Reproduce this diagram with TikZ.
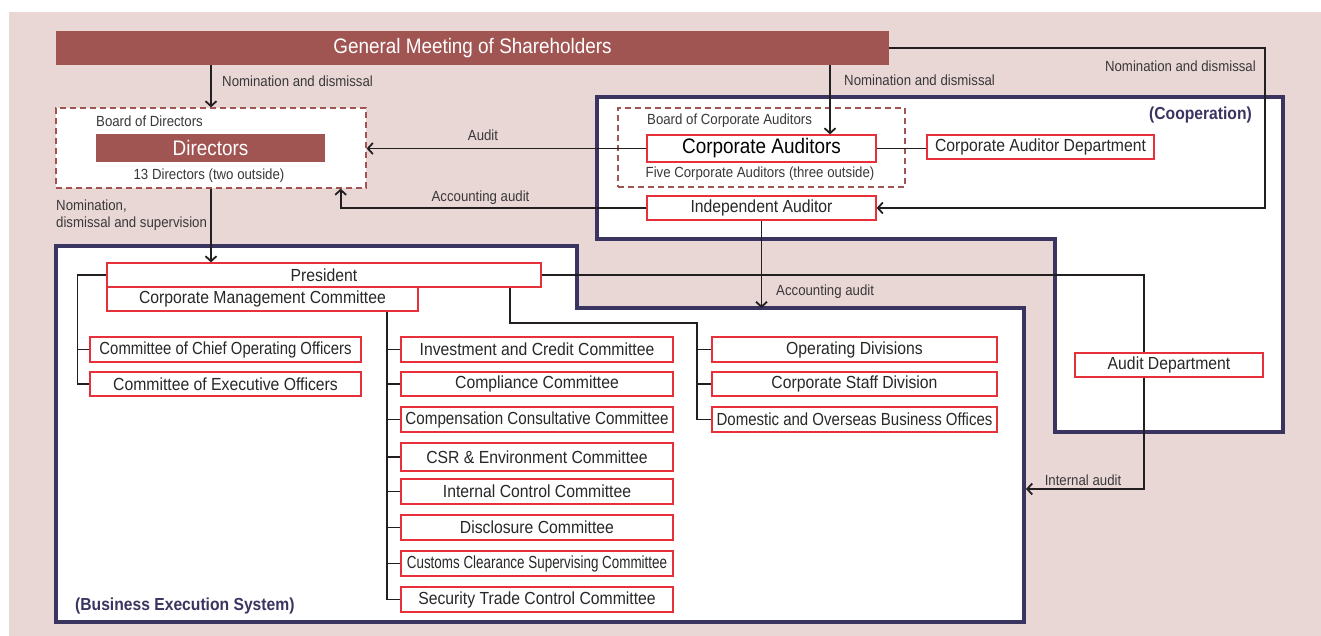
\documentclass[tikz,border=0pt]{standalone}
\usepackage{graphicx}
\usepackage{fontspec}
\setmainfont{Liberation Sans}[FakeStretch=0.9]
\usetikzlibrary{arrows.meta,calc}
\definecolor{bgpink}{RGB}{233,215,214}
\definecolor{dred}{RGB}{160,85,83}
\definecolor{navy}{RGB}{58,52,96}
\definecolor{bred}{RGB}{232,48,58}
\definecolor{txt}{RGB}{40,40,40}
\definecolor{lbl}{RGB}{58,56,56}
\definecolor{lnc}{RGB}{35,31,32}
\tikzset{
  box/.style={draw=bred, line width=1.2pt, fill=white, inner sep=0pt, text=txt,
    font=\fontsize{17.5}{20}\selectfont},
  bigbox/.style={box, font=\fontsize{21}{24}\selectfont, text=black},
  redbar/.style={fill=dred, inner sep=0pt, text=white, font=\fontsize{21}{24}\selectfont},
  dashbox/.style={draw=dred, line width=1.3pt, dash pattern=on 6pt off 4pt, fill=white, inner sep=0pt},
  lbltext/.style={inner sep=0pt, text=lbl, font=\fontsize{14.7}{17}\selectfont},
  navytext/.style={inner sep=0pt, text=navy, font=\fontsize{17.4}{20}\selectfont\bfseries},
  navyframe/.style={draw=navy, line width=3.6pt, fill=white, line join=miter},
  conn/.style={draw=lnc, line width=1.8pt},
  arr/.style={conn, -{Straight Barb[length=5pt,width=11pt]}}
}
\begin{document}
\begin{tikzpicture}[x=1pt,y={(0pt,-1pt)}]
\useasboundingbox (0,0) rectangle (1321,636);
\fill[white] (0,0) rectangle (1321,636);
\fill[bgpink] (9,12) rectangle (1321,636);

% frames
\draw[navyframe] (597,97) -- (1283,97) -- (1283,432) -- (1055,432) -- (1055,239) -- (597,239) -- cycle;
\draw[navyframe] (56,246) -- (577,246) -- (577,308) -- (1024,308) -- (1024,622) -- (56,622) -- cycle;
\node[navytext, anchor=east] (coop) at (1252,115) {(Cooperation)};
\node[navytext, anchor=west] (bes) at (75,606) {(Business Execution System)};

% top
\node[redbar, minimum width=833pt, minimum height=34pt] (gm) at (472.5,48) {General Meeting of Shareholders};

\node[dashbox, minimum width=310pt, minimum height=80pt] (dbox) at (211,148) {};
\node[redbar, minimum width=229pt, minimum height=28pt] (dir) at (210.5,148) {Directors};
\node[lbltext, anchor=west] (bod) at (96,121) {Board of Directors};
\node[lbltext] (thirteen) at (209,176) {13 Directors (two outside)};

\node[dashbox, minimum width=287pt, minimum height=79pt] (cbox) at (761.5,147.5) {};
\node[bigbox, minimum width=229pt, minimum height=27pt] (ca) at (761.5,148.5) {Corporate Auditors};
\node[lbltext, anchor=west] (bca) at (647,121) {Board of Corporate Auditors};
\node[lbltext] (five) at (760,174) {Five Corporate Auditors (three outside)};
\node[box, minimum width=229pt, minimum height=24pt] (ia) at (761.5,208) {Independent Auditor};
\node[box, minimum width=227pt, minimum height=24pt] (cad) at (1040.5,147) {Corporate Auditor Department};

% business execution
\node[box, minimum width=434pt, minimum height=24pt] (pres) at (324,275) {President};
\node[box, minimum width=311pt, minimum height=24pt] (cmc) at (262.5,299) {Corporate Management Committee};
\node[box, minimum width=271pt, minimum height=25pt] (coo) at (225.5,349.5) {\scalebox{0.945}[1]{Committee of Chief Operating Officers}};
\node[box, minimum width=271pt, minimum height=24pt] (ceo) at (225.5,384) {Committee of Executive Officers};

\node[box, minimum width=272pt, minimum height=25pt] (icc) at (537,349.5) {Investment and Credit Committee};
\node[box, minimum width=272pt, minimum height=24pt] (cc) at (537,384) {Compliance Committee};
\node[box, minimum width=272pt, minimum height=25pt] (ccc) at (537,419.5) {\scalebox{0.963}[1]{Compensation Consultative Committee}};
\node[box, minimum width=272pt, minimum height=28pt] (csr) at (537,457) {CSR \& Environment Committee};
\node[box, minimum width=272pt, minimum height=25pt] (icc2) at (537,491.5) {Internal Control Committee};
\node[box, minimum width=272pt, minimum height=25pt] (dc) at (537,527.5) {Disclosure Committee};
\node[box, minimum width=272pt, minimum height=25pt] (ccsc) at (537,563.5) {\scalebox{0.852}[1]{Customs Clearance Supervising Committee}};
\node[box, minimum width=272pt, minimum height=25pt] (stc) at (537,599.5) {Security Trade Control Committee};

\node[box, minimum width=285pt, minimum height=25pt] (od) at (854.5,349.5) {Operating Divisions};
\node[box, minimum width=285pt, minimum height=24pt] (csd) at (854.5,384) {Corporate Staff Division};
\node[box, minimum width=285pt, minimum height=25pt] (dob) at (854.5,419.5) {\scalebox{0.953}[1]{Domestic and Overseas Business Offices}};

\node[box, minimum width=188pt, minimum height=24pt] (ad) at (1169,365) {Audit Department};

% coordinates
\coordinate (nd) at (1265,48);
\coordinate (besstep) at (1024,308);
\coordinate (besr) at (1026,489);
\coordinate (rk) at (697,323);

% connectors
\draw[arr] (dbox.north |- gm.south) -- (dbox.north);
\node[lbltext, anchor=west] (l1) at (222,81) {Nomination and dismissal};
\draw[arr] (dbox.south) -- (dbox.south |- pres.north);
\node[lbltext, anchor=west, align=left] (l2) at (56,215.5) {Nomination,\\dismissal and supervision};
\draw[arr] (ca.west) -- (ca.west -| dbox.east);
\node[lbltext] (l3) at (483,135) {Audit};
\draw[arr] (ia.west) -| ([xshift=-26pt]dbox.south east);
\node[lbltext] (l4) at (480.5,198) {Accounting audit};
\draw[arr] ([xshift=68.5pt]ca.north |- gm.south) -- ([xshift=68.5pt]ca.north);
\node[lbltext, anchor=west] (l5) at (844,80) {Nomination and dismissal};
\draw[arr] (gm.east) -- (nd) |- (ia.east);
\node[lbltext, anchor=east] (l6) at (1256,66) {Nomination and dismissal};
\draw[arr] (ia.south) -- (ia.south |- besstep);
\node[lbltext, anchor=west] (l7) at (776,292) {Accounting audit};
\draw[conn] (ca.east) -- (ca.east -| cad.west);

\draw[conn] (pres.east) -| ([xshift=-25pt]ad.north);
\draw[arr] ([xshift=-25pt]ad.south) |- (besr);
\node[lbltext] (l8) at (1083,480) {Internal audit};

\draw[conn] (pres.west) -| ([xshift=-12pt]ceo.west) -- (ceo.west);
\draw[conn] ([xshift=-12pt]coo.west) -- (coo.west);

\draw[conn] ([xshift=124.5pt]cmc.south) |- (stc.west);
\foreach \n in {icc,cc,ccc,csr,icc2,dc,ccsc}{
  \draw[conn] ([xshift=-14pt]\n.west) -- (\n.west);
}

\draw[conn] ([xshift=186pt]pres.south) |- (rk) |- (dob.west);
\draw[conn] (od.west -| rk) -- (od.west);
\draw[conn] (csd.west -| rk) -- (csd.west);
\end{tikzpicture}
\end{document}
